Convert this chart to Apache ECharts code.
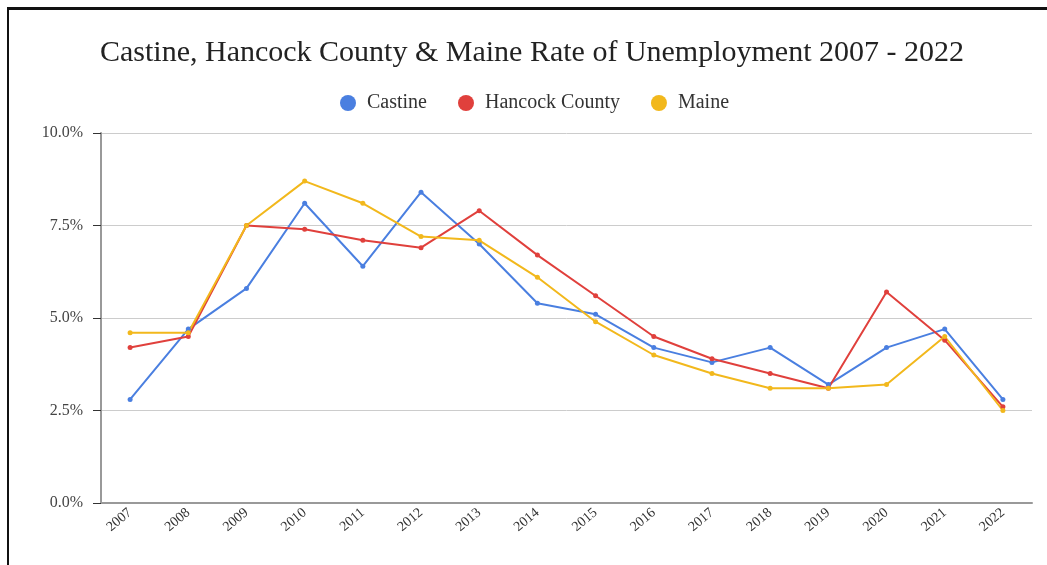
<!DOCTYPE html>
<html>
<head>
<meta charset="utf-8">
<script src="https://cdn.jsdelivr.net/npm/echarts@6/dist/echarts.min.js"></script>
<style>
  html, body { margin: 0; padding: 0; background: #fff; }
  #frame { position: absolute; left: 7px; top: 7px; width: 1040px; height: 558px;
           border-top: 3px solid #111; border-left: 2px solid #111; box-sizing: border-box; }
  #chart { position: absolute; left: 0; top: 0; width: 1047px; height: 565px; }
</style>
</head>
<body>
<div id="chart"></div>
<div id="frame"></div>
<script>
// Annual unemployment rates (%)
const years = ['2007','2008','2009','2010','2011','2012','2013','2014','2015','2016','2017','2018','2019','2020','2021','2022'];
const castine = [2.8, 4.7, 5.8, 8.1, 6.4, 8.4, 7.0, 5.4, 5.1, 4.2, 3.8, 4.2, 3.2, 4.2, 4.7, 2.8];
const hancock = [4.2, 4.5, 7.5, 7.4, 7.1, 6.9, 7.9, 6.7, 5.6, 4.5, 3.9, 3.5, 3.1, 5.7, 4.4, 2.6];
const maine   = [4.6, 4.6, 7.5, 8.7, 8.1, 7.2, 7.1, 6.1, 4.9, 4.0, 3.5, 3.1, 3.1, 3.2, 4.5, 2.5];

const serif = '"Liberation Serif", "DejaVu Serif", serif';

function lineSeries(name, data, color) {
  return {
    name, type: 'line', data,
    symbol: 'circle', symbolSize: 5,
    lineStyle: { width: 2, color },
    itemStyle: { color },
    emphasis: { disabled: true }
  };
}

const chart = echarts.init(document.getElementById('chart'));
chart.setOption({
  animation: false,
  title: {
    text: 'Castine, Hancock County & Maine Rate of Unemployment 2007 - 2022',
    left: 95, top: 33,
    textStyle: { fontFamily: serif, fontSize: 30, fontWeight: 'normal', color: '#222' }
  },
  legend: {
    top: 88, left: 335,
    icon: 'circle', itemWidth: 16, itemHeight: 16, itemGap: 31,
    textStyle: { fontFamily: serif, fontSize: 20, color: '#333', padding: [0, 0, 0, 6] },
    data: ['Castine', 'Hancock County', 'Maine']
  },
  grid: { left: 101, right: 15, top: 133, bottom: 62, containLabel: false },
  xAxis: {
    type: 'category', data: years, boundaryGap: true,
    axisLine: { lineStyle: { color: '#999', width: 2 } },
    axisTick: { show: false },
    axisLabel: { rotate: 40, fontFamily: serif, fontSize: 14, color: '#333', margin: 8 }
  },
  yAxis: {
    type: 'value', min: 0, max: 10, interval: 2.5,
    axisLine: { show: true, lineStyle: { color: '#999', width: 2 } },
    axisTick: { show: true, length: 8, lineStyle: { color: '#333', width: 1 } },
    splitLine: { lineStyle: { color: '#ccc', width: 1 } },
    axisLabel: {
      fontFamily: serif, fontSize: 16, color: '#444', margin: 18,
      formatter: v => v.toFixed(1) + '%'
    }
  },
  series: [
    lineSeries('Castine', castine, '#4a7fe0'),
    lineSeries('Hancock County', hancock, '#e0403c'),
    lineSeries('Maine', maine, '#f2b81c')
  ]
});
</script>
</body>
</html>
